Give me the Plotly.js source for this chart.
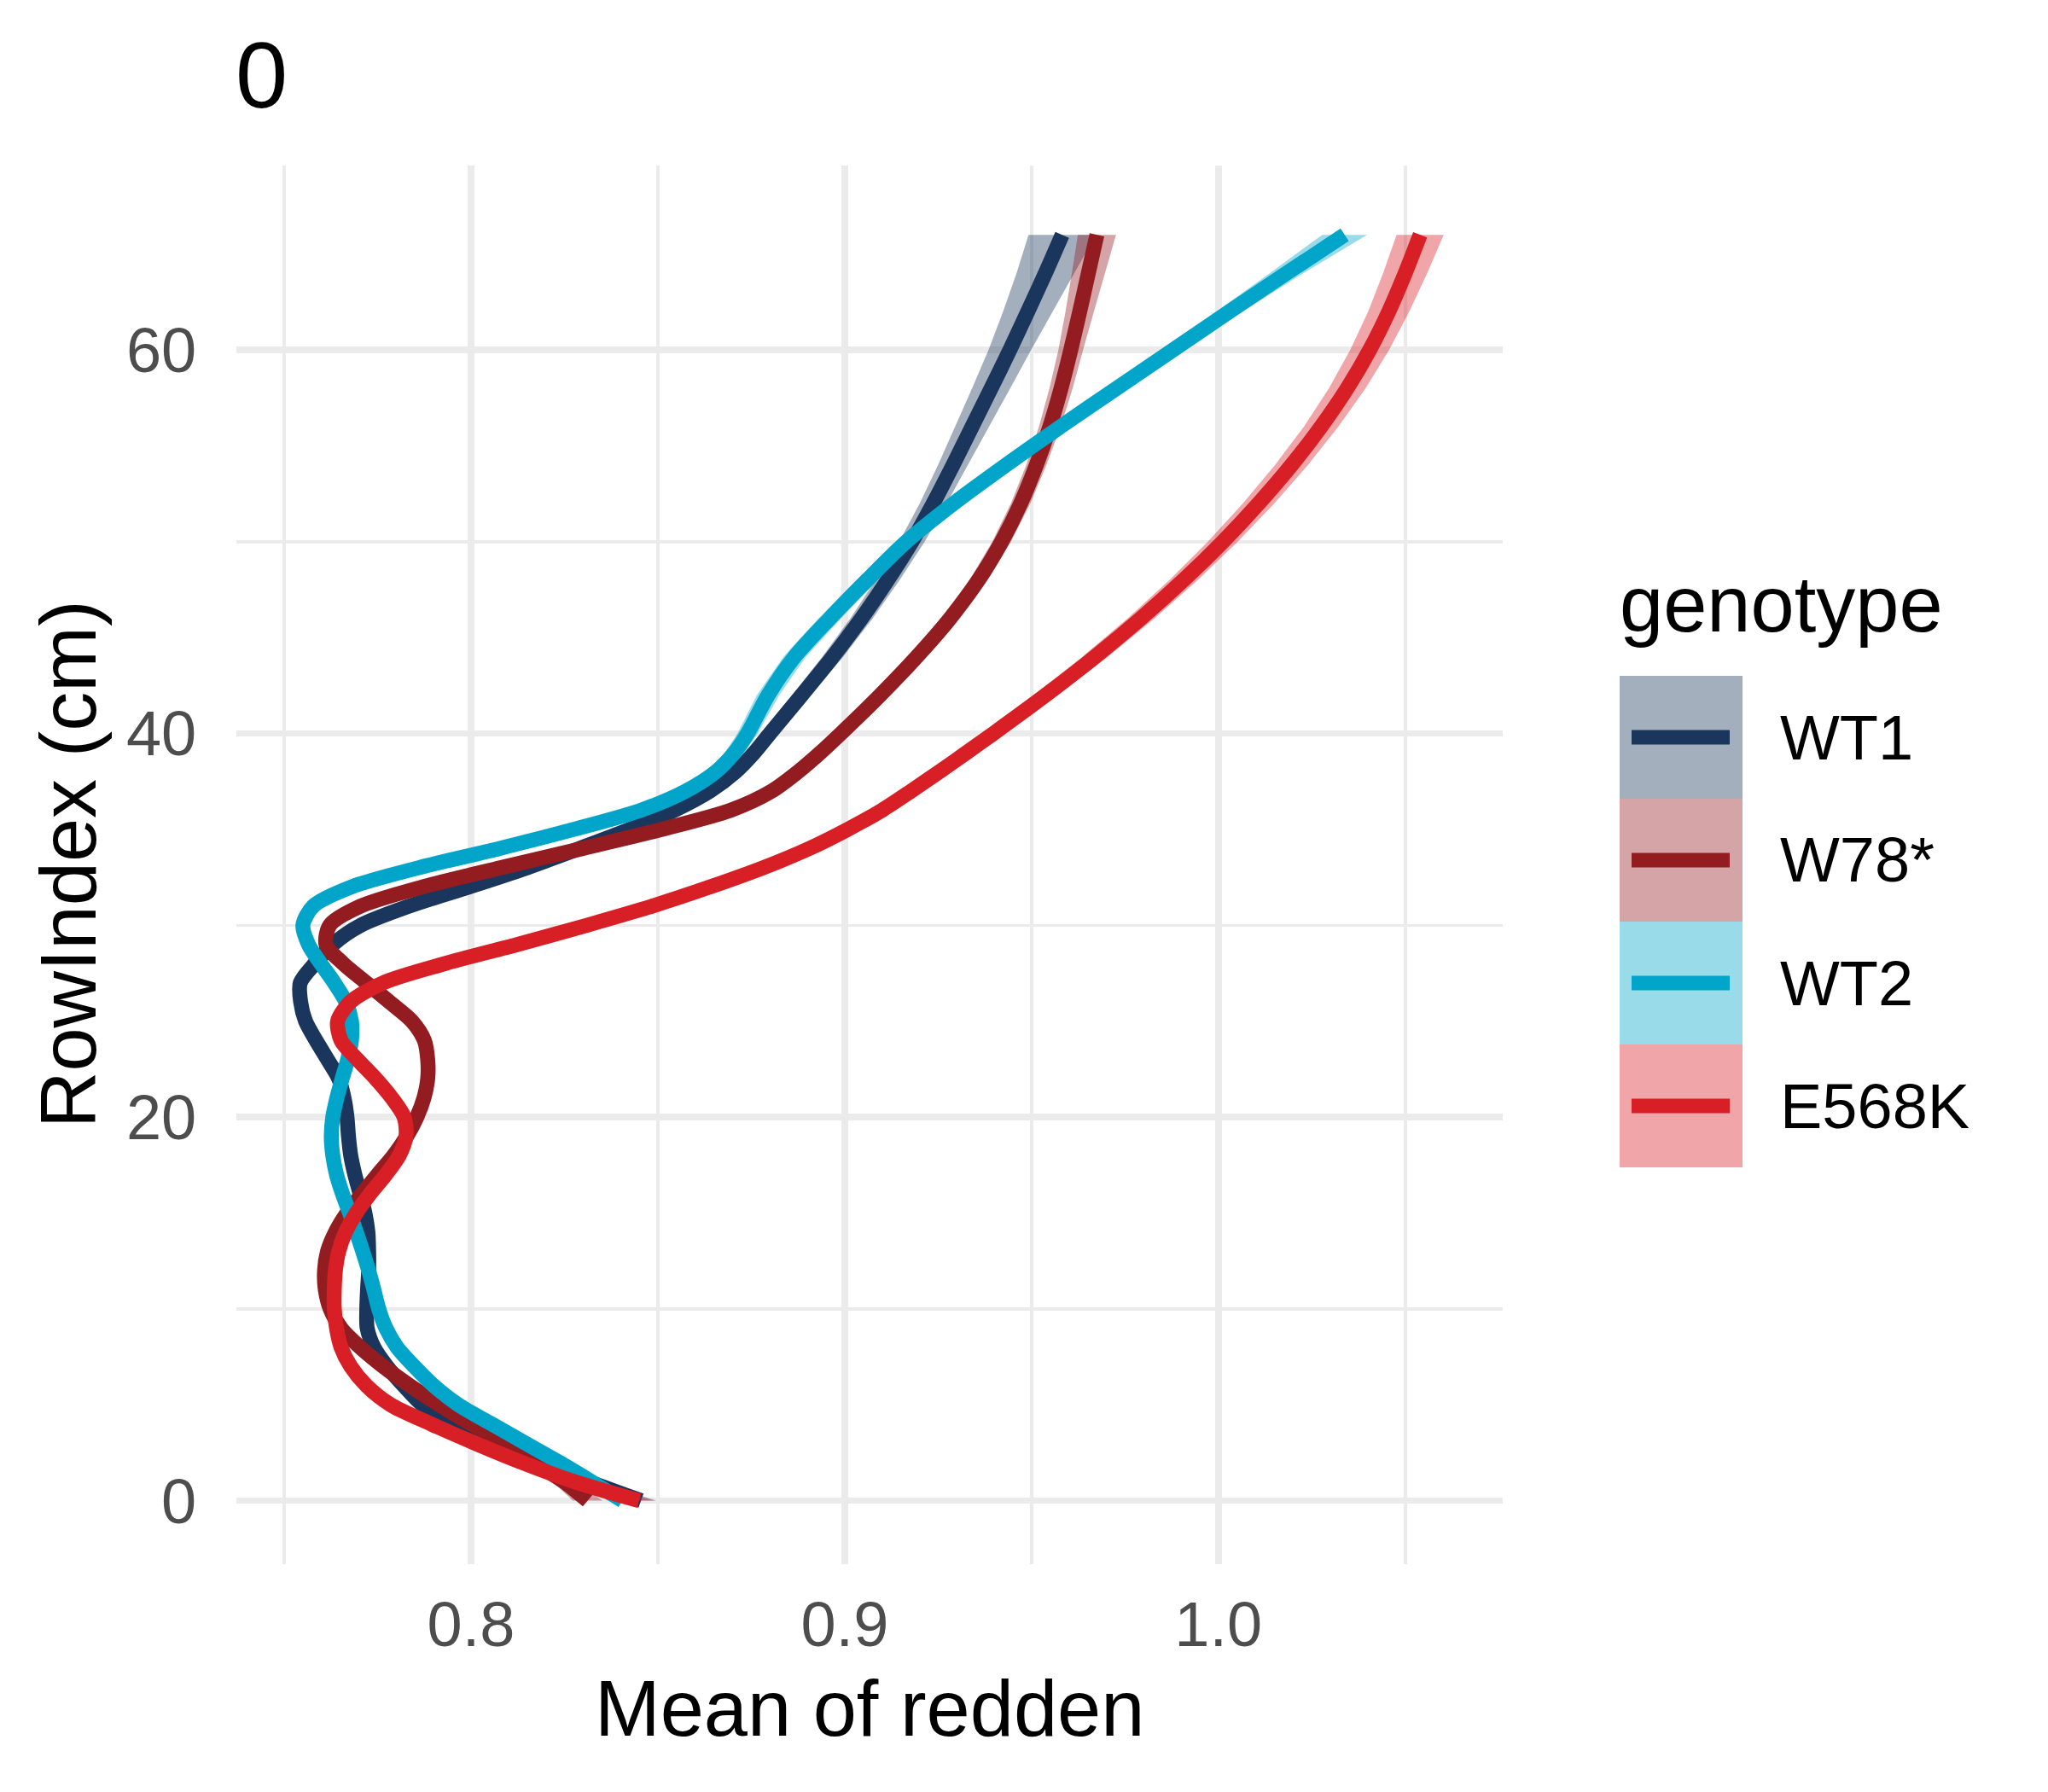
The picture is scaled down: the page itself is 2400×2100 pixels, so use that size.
<!DOCTYPE html>
<html>
<head>
<meta charset="utf-8">
<script src="https://cdn.plot.ly/plotly-3.0.1.min.js"></script>
<style>
  html, body { margin: 0; padding: 0; background: #fff; }
  #plot { width: 2400px; height: 2100px; }
</style>
</head>
<body>
<div id="plot"></div>
<script>
// RowIndex (cm) positions the smooths were read at
var rowIndex = [0,1,2,3,4,5,6,7,8,9,10,11,12,13,14,15,16,17,18,19,
  20,21,22,23,24,25,26,27,28,29,30,31,32,33,34,35,36,37,38,39,40,
  42,44,46,48,50,52,54,56,58,60,62,64,66];

var genotypes = ['WT1', 'W78*', 'WT2', 'E568K'];
var lineColors = ['#1B365D', '#931C20', '#00A5C9', '#D91F26'];
var ribbonColors = ['rgba(27,54,93,0.4)', 'rgba(147,28,32,0.4)', 'rgba(0,165,201,0.4)', 'rgba(217,31,38,0.4)'];

// mean of redden (smoothed)
var wt1 = [0.8455,0.8315,0.8185,0.806,0.795,0.787,0.782,0.7775,0.774,0.7722,
  0.7721,0.7723,0.7726,0.7726,0.7724,0.7716,0.7703,0.7689,0.7678,0.7672,
  0.7668,0.766,0.7646,0.7616,0.7585,0.7557,0.7544,0.7543,0.7582,0.763,
  0.7705,0.7835,0.7995,0.815,0.829,0.8425,0.8545,0.864,0.8708,0.8758,
  0.88,
  0.8885,0.8968,0.9045,0.9115,0.918,0.9237,0.929,0.9341,0.9392,0.9442,0.949,0.9537,0.9582];
var w78 = [0.8312,0.8248,0.8168,0.8092,0.800,0.7915,0.7836,0.7765,0.7703,0.7652,
  0.7623,0.761,0.7608,0.7616,0.7637,0.7668,0.7708,0.775,0.7793,0.7828,
  0.7855,0.7874,0.7884,0.7884,0.7875,0.7842,0.7782,0.772,0.7658,0.7612,
  0.7622,0.7705,0.787,0.808,0.8298,0.851,0.8695,0.8805,0.8875,0.8935,
  0.899,
  0.9095,0.9193,0.9282,0.9358,0.942,0.9471,0.9513,0.9549,0.9579,0.9605,0.9629,0.9652,0.9675];
var wt2 = [0.8405,0.8322,0.8236,0.8145,0.8055,0.7966,0.79,0.7848,0.7802,0.7772,
  0.7753,0.774,0.7726,0.771,0.7693,0.7675,0.7656,0.764,0.763,0.7626,
  0.763,0.7641,0.7655,0.767,0.768,0.768,0.7665,0.7634,0.7598,0.7565,
  0.755,0.7578,0.768,0.786,0.8075,0.8275,0.8455,0.8575,0.8655,0.8705,
  0.874,
  0.8795,0.8866,0.896,0.906,0.9165,0.9292,0.9432,0.9578,0.9728,0.9879,1.003,1.0183,1.0338];
var e568k = [0.845,0.8275,0.8135,0.801,0.7893,0.7785,0.772,0.7678,0.7652,0.764,
  0.7634,0.7634,0.7637,0.7646,0.7664,0.7693,0.773,0.7772,0.7808,0.7826,
  0.7821,0.7788,0.7745,0.7696,0.7652,0.7643,0.7677,0.7765,0.793,0.8125,
  0.831,0.8485,0.864,0.8782,0.8905,0.9008,0.91,0.9178,0.9253,0.9326,
  0.9398,
  0.9538,0.967,0.9793,0.9907,1.0012,1.0108,1.0196,1.0275,1.0345,1.0405,1.0456,1.05,1.054];

// half width of the confidence band
var wt1Se = [0.004,0.003,0.0024,0.002,0.0018,0.0017,0.0016,0.0016,0.0016,0.0016,
  0.0016,0.0016,0.0016,0.0016,0.0016,0.0016,0.0016,0.0016,0.0016,0.0016,
  0.0016,0.0016,0.0016,0.0016,0.0016,0.0016,0.0016,0.0016,0.0016,0.0016,
  0.0016,0.0017,0.0018,0.0018,0.0019,0.0019,0.002,0.002,0.0021,0.0021,
  0.0022,
  0.0025,0.0028,0.003,0.0032,0.0034,0.0036,0.004,0.0045,0.0051,0.0057,0.0066,0.0077,0.009];
var w78Se = [0.004,0.003,0.0024,0.002,0.0018,0.0017,0.0016,0.0016,0.0016,0.0016,
  0.0016,0.0016,0.0016,0.0016,0.0016,0.0016,0.0016,0.0016,0.0016,0.0016,
  0.0016,0.0016,0.0016,0.0016,0.0016,0.0016,0.0016,0.0016,0.0016,0.0016,
  0.0016,0.0017,0.0017,0.0018,0.0018,0.0019,0.0019,0.0019,0.002,0.002,
  0.002,
  0.0021,0.0022,0.0023,0.0024,0.0025,0.0026,0.0027,0.0029,0.0031,0.0033,0.0038,0.0044,0.0051];
var wt2Se = [0.004,0.003,0.0024,0.002,0.0018,0.0017,0.0016,0.0016,0.0016,0.0016,
  0.0016,0.0016,0.0016,0.0016,0.0016,0.0016,0.0016,0.0016,0.0016,0.0016,
  0.0016,0.0016,0.0016,0.0016,0.0016,0.0016,0.0016,0.0016,0.0016,0.0016,
  0.0016,0.0017,0.0018,0.0019,0.002,0.0022,0.0024,0.0025,0.0025,0.0026,
  0.0027,
  0.003,0.003,0.003,0.0028,0.0025,0.0022,0.0022,0.0022,0.0024,0.0027,0.0035,0.0045,0.006];
var e568kSe = [0.004,0.003,0.0024,0.002,0.0018,0.0017,0.0017,0.0017,0.0017,0.0017,
  0.0017,0.0017,0.0017,0.0017,0.0017,0.0017,0.0017,0.0017,0.0017,0.0017,
  0.0017,0.0017,0.0017,0.0017,0.0017,0.0017,0.0017,0.0018,0.0019,0.002,
  0.0021,0.0022,0.0023,0.0024,0.0025,0.0026,0.0027,0.0028,0.0029,0.003,
  0.003,
  0.0032,0.0034,0.0036,0.0038,0.004,0.0042,0.0044,0.0046,0.0049,0.0052,0.0055,0.0059,0.0063];

var means = [wt1, w78, wt2, e568k];
var ses = [wt1Se, w78Se, wt2Se, e568kSe];

var FONT = 'Liberation Sans, Arial, sans-serif';

// plot area in page pixels
var L = 277, R = 1761, T = 194, B = 1833;
function px(x) { return (x - L) / (R - L); }
function py(y) { return (B - y) / (B - T); }

var data = [];
for (var g = 0; g < genotypes.length; g++) {
  var m = means[g], s = ses[g];
  var lo = m.map(function (v, i) { return v - s[i]; });
  var hi = m.map(function (v, i) { return v + s[i]; });
  data.push({
    type: 'scatter', mode: 'lines',
    x: lo.concat(hi.slice().reverse()),
    y: rowIndex.concat(rowIndex.slice().reverse()),
    fill: 'toself', fillcolor: ribbonColors[g],
    line: { width: 0 },
    hoverinfo: 'skip', showlegend: false
  });
  data.push({
    type: 'scatter', mode: 'lines',
    name: genotypes[g],
    x: m, y: rowIndex,
    line: { color: lineColors[g], width: 17.5, shape: 'spline', smoothing: 0.8 },
    showlegend: false
  });
}

// legend drawn by hand, ggplot style
var shapes = [], annotations = [];
var keyTop = 792, keyH = 144;
for (var k = 0; k < genotypes.length; k++) {
  var y0 = keyTop + k * keyH, yc = y0 + keyH / 2;
  shapes.push({
    type: 'rect', xref: 'paper', yref: 'paper',
    x0: px(1898), x1: px(2042), y0: py(y0), y1: py(y0 + keyH),
    fillcolor: ribbonColors[k], line: { width: 0 }
  });
  shapes.push({
    type: 'line', xref: 'paper', yref: 'paper',
    x0: px(1912), x1: px(2027), y0: py(yc), y1: py(yc),
    line: { color: lineColors[k], width: 17 }
  });
  annotations.push({
    xref: 'paper', yref: 'paper', x: px(2084), y: py(yc),
    xanchor: 'left', yanchor: 'middle', showarrow: false,
    text: genotypes[k], font: { family: FONT, size: 74, color: '#000' }
  });
}
annotations.push({
  xref: 'paper', yref: 'paper', x: px(1896), y: py(708),
  xanchor: 'left', yanchor: 'middle', showarrow: false,
  text: 'genotype', font: { family: FONT, size: 92, color: '#000' }
});
// axis titles
annotations.push({
  xref: 'paper', yref: 'paper', x: 0.5, y: py(2002),
  xanchor: 'center', yanchor: 'middle', showarrow: false,
  text: 'Mean of redden', font: { family: FONT, size: 92, color: '#000' }
});
annotations.push({
  xref: 'paper', yref: 'paper', x: px(80), y: py(1012),
  xanchor: 'center', yanchor: 'middle', showarrow: false, textangle: -90,
  text: 'RowIndex (cm)', font: { family: FONT, size: 92, color: '#000' }
});

var grid = '#EBEBEB';
var layout = {
  width: 2400, height: 2100,
  margin: { l: L, r: 2400 - R, t: T, b: 2100 - B, pad: 0 },
  paper_bgcolor: '#fff', plot_bgcolor: '#fff',
  font: { family: FONT },
  title: {
    text: '0', xref: 'container', yref: 'container',
    x: 276 / 2400, xanchor: 'left', y: 1 - 87 / 2100, yanchor: 'middle',
    font: { family: FONT, size: 110, color: '#000' }
  },
  xaxis: {
    range: [0.7372, 1.0761], tickmode: 'linear', tick0: 0.8, dtick: 0.1, tickformat: '.1f',
    showgrid: true, gridcolor: grid, gridwidth: 7.5, zeroline: false, showline: false,
    ticks: 'outside', ticklen: 6, tickcolor: 'rgba(0,0,0,0)',
    tickfont: { family: FONT, size: 74, color: '#4D4D4D' },
    minor: { tick0: 0.75, dtick: 0.05, showgrid: true, gridcolor: grid, gridwidth: 3.6 },
    fixedrange: true
  },
  yaxis: {
    range: [-3.31, 69.61], tickmode: 'linear', tick0: 0, dtick: 20,
    showgrid: true, gridcolor: grid, gridwidth: 7.5, zeroline: false, showline: false,
    ticks: 'outside', ticklen: 31, tickcolor: 'rgba(0,0,0,0)',
    tickfont: { family: FONT, size: 74, color: '#4D4D4D' },
    minor: { tick0: 0, dtick: 10, showgrid: true, gridcolor: grid, gridwidth: 3.6 },
    fixedrange: true
  },
  shapes: shapes,
  annotations: annotations,
  showlegend: false
};

Plotly.newPlot('plot', data, layout, { staticPlot: true, displayModeBar: false });
</script>
</body>
</html>
